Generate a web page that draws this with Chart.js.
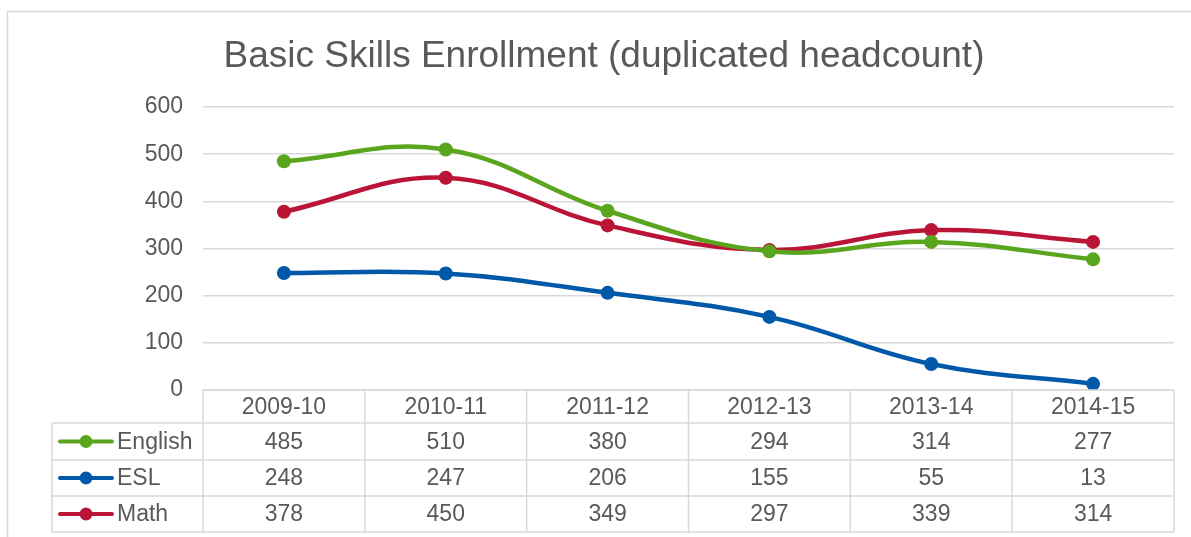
<!DOCTYPE html>
<html>
<head>
<meta charset="utf-8">
<script src="https://cdn.jsdelivr.net/npm/chart.js@4/dist/chart.umd.min.js"></script>
<style>
  html, body { margin: 0; padding: 0; background: #fff; }
  #wrap { width: 1191px; height: 537px; }
</style>
</head>
<body>
<div id="wrap"><canvas id="enrollChart"></canvas></div>
<script>
const years = ['2009-10', '2010-11', '2011-12', '2012-13', '2013-14', '2014-15'];
const english = [485, 510, 380, 294, 314, 277];
const esl = [248, 247, 206, 155, 55, 13];
const math = [378, 450, 349, 297, 339, 314];
const yTicks = [0, 100, 200, 300, 400, 500, 600];
const chartTitle = 'Basic Skills Enrollment (duplicated headcount)';

const textColor = '#595959';
const gridColor = '#d9d9d9';
const font = 'Arial, "Liberation Sans", sans-serif';

// draws the outer frame, the title and the data table under the plot
const tablePlugin = {
    id: 'dataTable',
    beforeDraw(chart) {
        const ctx = chart.ctx;
        ctx.save();
        ctx.strokeStyle = gridColor;
        ctx.lineWidth = 1.5;
        ctx.strokeRect(7.5, 11.5, chart.width + 10, chart.height + 10);
        ctx.restore();
    },
    afterDraw(chart) {
        const ctx = chart.ctx;
        const x = chart.scales.x;
        const area = chart.chartArea;
        const left = area.left, right = area.right;
        const tableLeft = 52;
        const rowTops = [area.bottom, 423, 460, 496, 532];
        const colW = (right - left) / years.length;

        ctx.save();
        // title
        ctx.fillStyle = textColor;
        ctx.font = '37px ' + font;
        ctx.textAlign = 'center';
        ctx.textBaseline = 'alphabetic';
        ctx.fillText(chartTitle, 604, 67);

        ctx.strokeStyle = gridColor;
        ctx.lineWidth = 1.5;
        // horizontal lines
        ctx.beginPath();
        ctx.moveTo(left, rowTops[0]); ctx.lineTo(right, rowTops[0]);
        for (let r = 1; r < rowTops.length; r++) {
            ctx.moveTo(tableLeft, rowTops[r]); ctx.lineTo(right, rowTops[r]);
        }
        // vertical lines
        ctx.moveTo(tableLeft, rowTops[1]); ctx.lineTo(tableLeft, rowTops[4]);
        for (let c = 0; c <= years.length; c++) {
            const cx = left + c * colW;
            ctx.moveTo(cx, rowTops[0]); ctx.lineTo(cx, rowTops[4]);
        }
        ctx.stroke();

        ctx.fillStyle = textColor;
        ctx.font = '23px ' + font;
        ctx.textAlign = 'center';
        ctx.textBaseline = 'middle';
        years.forEach((y, i) => {
            ctx.fillText(y, x.getPixelForValue(i), (rowTops[0] + rowTops[1]) / 2 + 1);
        });

        chart.data.datasets.forEach((ds, r) => {
            const cy = (rowTops[r + 1] + rowTops[r + 2]) / 2 + 1;
            ds.data.forEach((v, i) => {
                ctx.fillText(String(v), x.getPixelForValue(i), cy);
            });
            // legend key
            ctx.strokeStyle = ds.borderColor;
            ctx.lineWidth = 4;
            ctx.lineCap = 'round';
            ctx.beginPath();
            ctx.moveTo(60, cy - 1); ctx.lineTo(112, cy - 1);
            ctx.stroke();
            ctx.fillStyle = ds.borderColor;
            ctx.beginPath();
            ctx.arc(86, cy - 1, 6.5, 0, Math.PI * 2);
            ctx.fill();
            ctx.fillStyle = textColor;
            ctx.textAlign = 'left';
            ctx.fillText(ds.label, 117, cy);
            ctx.textAlign = 'center';
        });
        ctx.restore();
    }
};

function series(label, values, color) {
    return {
        label: label,
        data: values,
        borderColor: color,
        backgroundColor: color,
        borderWidth: 4.5,
        pointRadius: 7,
        pointHoverRadius: 7,
        pointBackgroundColor: color,
        pointBorderWidth: 0,
        tension: 0.4,
        fill: false
    };
}

new Chart(document.getElementById('enrollChart'), {
    type: 'line',
    data: {
        labels: years,
        datasets: [
            series('English', english, '#5aa51e'),
            series('ESL', esl, '#0059a8'),
            series('Math', math, '#ba1437')
        ]
    },
    options: {
        responsive: true,
        maintainAspectRatio: false,
        animation: false,
        layout: { padding: { left: 0, right: 17, top: 107, bottom: 147 } },
        plugins: {
            legend: { display: false },
            tooltip: { enabled: false },
            title: { display: false }
        },
        scales: {
            x: {
                offset: true,
                ticks: { display: false },
                grid: { display: false, drawTicks: false },
                border: { display: false }
            },
            y: {
                min: 0,
                max: 600,
                afterBuildTicks: (s) => { s.ticks = yTicks.map(v => ({ value: v })); },
                afterFit: (s) => { s.width = 203; },
                ticks: {
                    color: textColor,
                    font: { family: font, size: 23 },
                    padding: 20
                },
                grid: { color: gridColor, lineWidth: 1.5, drawTicks: false },
                border: { display: false }
            }
        }
    },
    plugins: [tablePlugin]
});
</script>
</body>
</html>
